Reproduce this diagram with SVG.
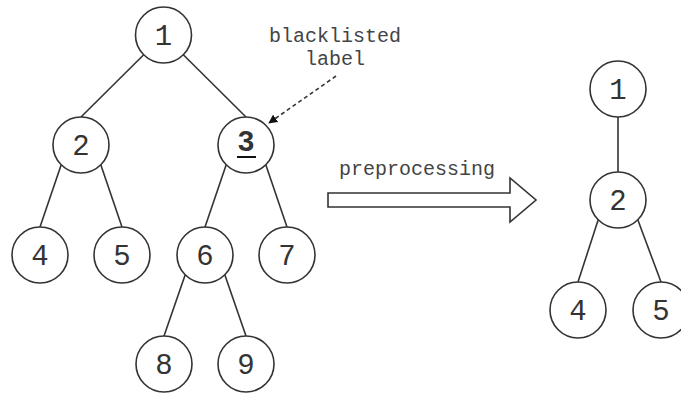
<svg xmlns="http://www.w3.org/2000/svg" width="681" height="394" viewBox="0 0 681 394">
  <style>
    .node circle { fill: #ffffff; stroke: #333333; stroke-width: 1.6; }
    .node text { font-family: "Liberation Mono", "Courier New", monospace; font-size: 29px; fill: #333333; text-anchor: middle; }
    .edge { stroke: #333333; stroke-width: 1.6; fill: none; }
    .label { font-family: "Liberation Mono", "Courier New", monospace; font-size: 20px; fill: #444444; text-anchor: middle; }
  </style>
  <defs>
    <marker id="tip" viewBox="0 0 10 10" refX="9" refY="5" markerWidth="9" markerHeight="9" markerUnits="userSpaceOnUse" orient="auto">
      <path d="M0,0 L10,5 L0,10 z" fill="#111111"/>
    </marker>
  </defs>
  <rect width="681" height="394" fill="#ffffff"/>

  <!-- tree edges: parent lower side to child top -->
  <g id="edges">
    <line class="edge" x1="143.7" y1="54.8" x2="81" y2="117"/>
    <line class="edge" x1="183.3" y1="54.8" x2="246" y2="117"/>
    <line class="edge" x1="61.2" y1="164.8" x2="40" y2="227"/>
    <line class="edge" x1="100.8" y1="164.8" x2="122" y2="227"/>
    <line class="edge" x1="226.2" y1="164.8" x2="205" y2="227"/>
    <line class="edge" x1="265.8" y1="164.8" x2="287" y2="227"/>
    <line class="edge" x1="185.2" y1="274.8" x2="164" y2="336"/>
    <line class="edge" x1="224.8" y1="274.8" x2="246" y2="336"/>
    <line class="edge" x1="618" y1="117" x2="618" y2="172"/>
    <line class="edge" x1="598.2" y1="219.8" x2="578" y2="282"/>
    <line class="edge" x1="637.8" y1="219.8" x2="661" y2="282"/>
    <!-- pointer to the blacklisted node -->
    <line class="edge" x1="336" y1="76" x2="269" y2="123" stroke-dasharray="4 3" stroke-width="1.4" marker-end="url(#tip)"/>
  </g>

  <!-- original tree -->
  <g id="n1" class="node"><circle cx="163.5" cy="35" r="28"/><text x="163.5" y="45">1</text></g>
  <g id="n2" class="node"><circle cx="81" cy="145" r="28"/><text x="81" y="155">2</text></g>
  <g id="n3" class="node"><circle cx="246" cy="145" r="28"/><text x="246" y="151" font-weight="bold" font-size="24" fill="#111111">3</text><line x1="237" y1="157" x2="256" y2="157" stroke="#111111" stroke-width="2"/></g>
  <g id="n4" class="node"><circle cx="40" cy="255" r="28"/><text x="40" y="265">4</text></g>
  <g id="n5" class="node"><circle cx="122" cy="255" r="28"/><text x="122" y="265">5</text></g>
  <g id="n6" class="node"><circle cx="205" cy="255" r="28"/><text x="205" y="265">6</text></g>
  <g id="n7" class="node"><circle cx="287" cy="255" r="28"/><text x="287" y="265">7</text></g>
  <g id="n8" class="node"><circle cx="164" cy="364" r="28"/><text x="164" y="374">8</text></g>
  <g id="n9" class="node"><circle cx="246" cy="364" r="28"/><text x="246" y="374">9</text></g>

  <!-- annotation -->
  <g id="blacklist-label">
    <text class="label" x="335" y="42">blacklisted</text>
    <text class="label" x="335" y="65">label</text>
  </g>

  <!-- preprocessing step -->
  <g id="preprocessing">
    <text class="label" x="417" y="175">preprocessing</text>
    <path d="M328,193 L510,193 L510,178 L536,200 L510,222 L510,207 L328,207 Z" fill="#ffffff" stroke="#333333" stroke-width="1.6"/>
  </g>

  <!-- reduced tree -->
  <g id="r1" class="node"><circle cx="618" cy="89" r="28"/><text x="618" y="99">1</text></g>
  <g id="r2" class="node"><circle cx="618" cy="200" r="28"/><text x="618" y="210">2</text></g>
  <g id="r4" class="node"><circle cx="578" cy="310" r="28"/><text x="578" y="320">4</text></g>
  <g id="r5" class="node"><circle cx="661" cy="310" r="28"/><text x="661" y="320">5</text></g>
</svg>
